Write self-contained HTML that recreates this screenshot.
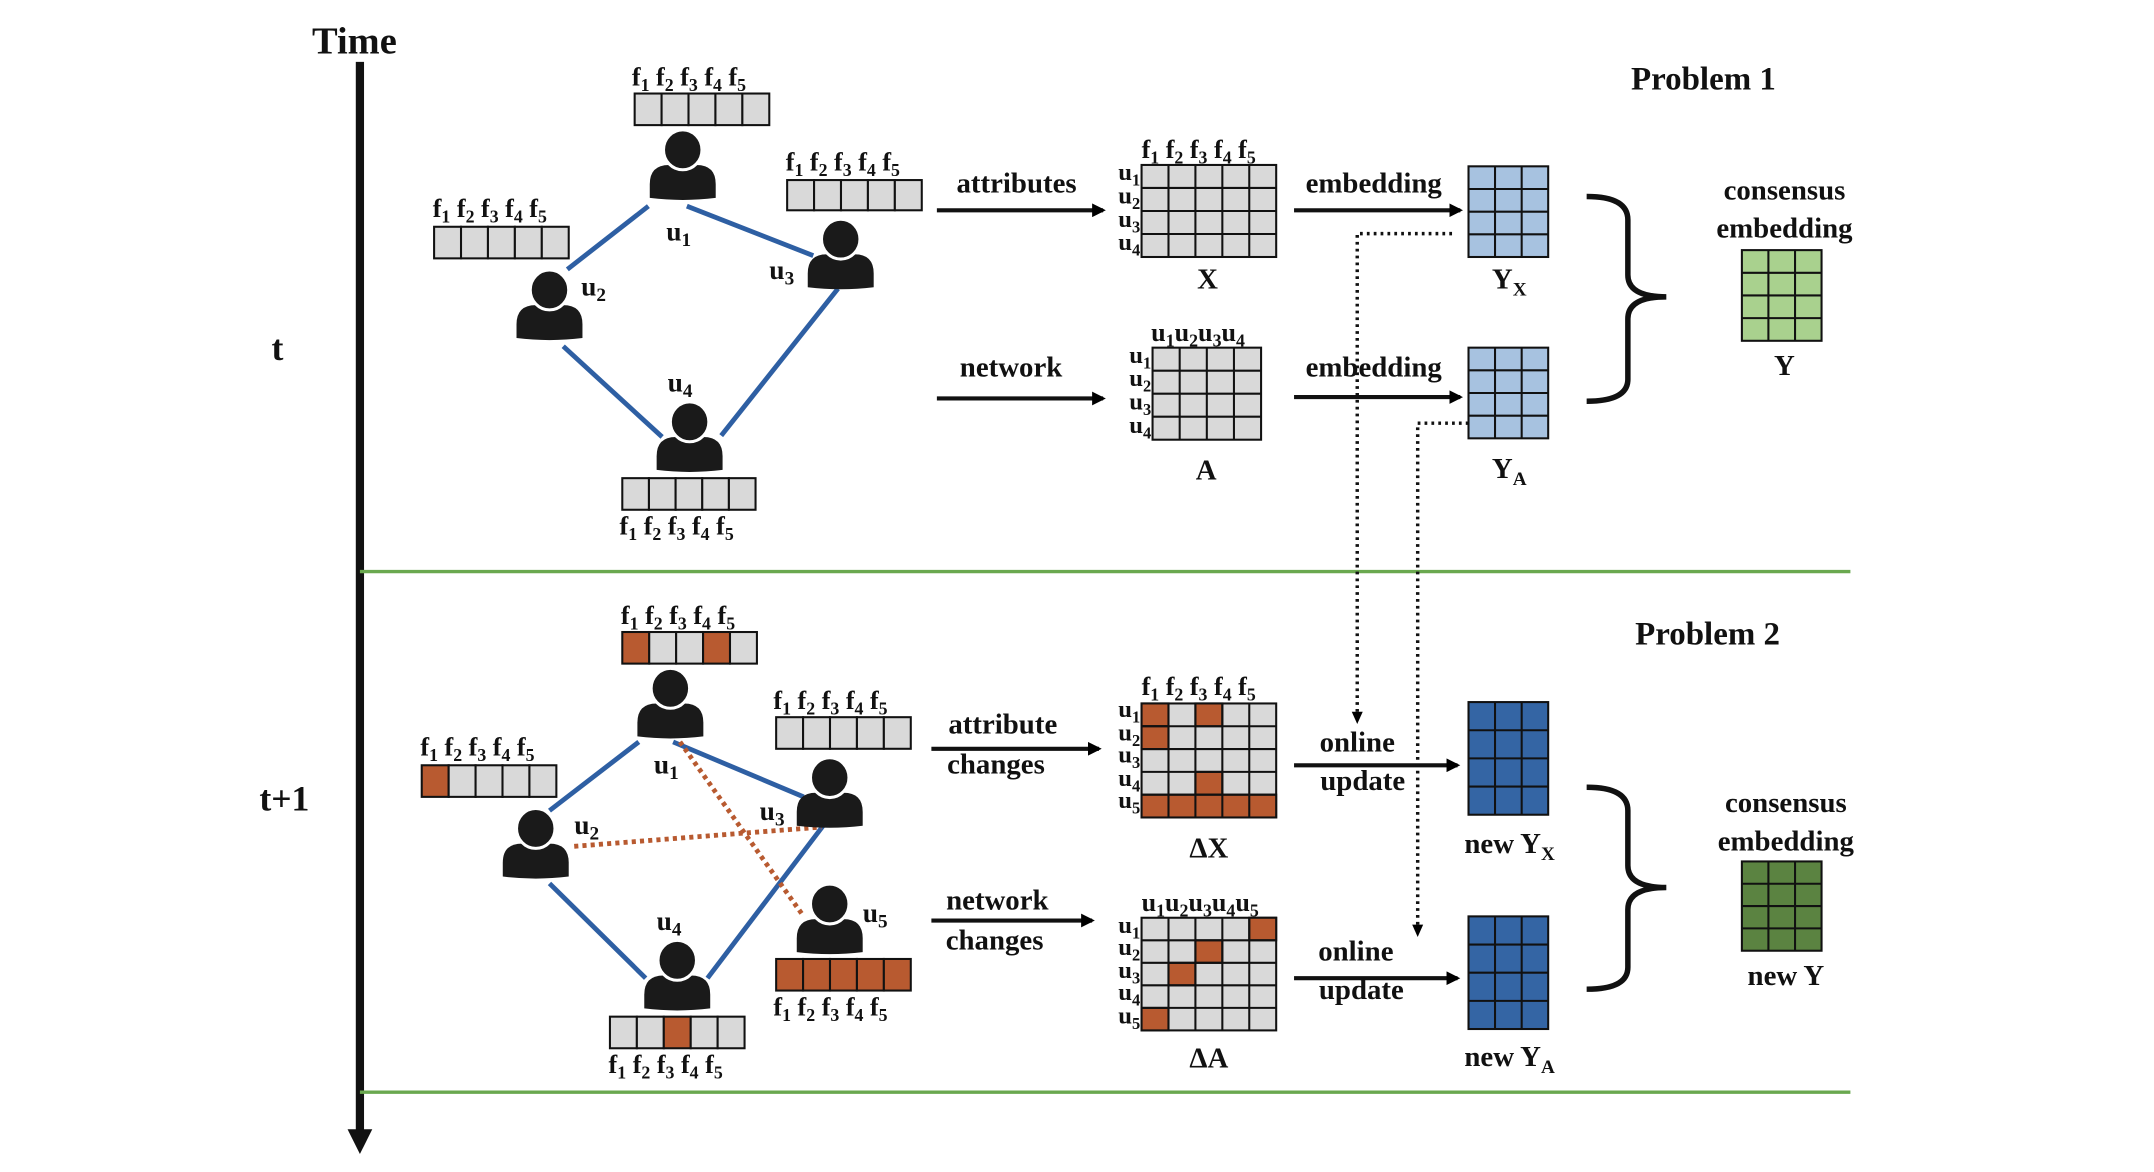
<!DOCTYPE html>
<html><head><meta charset="utf-8"><style>
html,body{margin:0;padding:0;background:#fff;}
svg{display:block;}
text{font-family:"Liberation Serif",serif;font-weight:bold;fill:#111;}
</style></head><body>
<svg width="2154" height="1172" viewBox="0 0 1568 853" xmlns="http://www.w3.org/2000/svg">
<defs>
<marker id="ah" markerWidth="10" markerHeight="10" refX="8" refY="5" orient="auto" markerUnits="userSpaceOnUse"><path d="M0,0 L10,5 L0,10 z" fill="#000"/></marker>
<marker id="ah2" markerWidth="10" markerHeight="10" refX="8" refY="5" orient="auto" markerUnits="userSpaceOnUse"><path d="M0,1 L9,5 L0,9 z" fill="#000"/></marker>
<g id="person"><path d="M-24,35 L-24,25 Q-24,11 -10,11 L10,11 Q24,11 24,25 L24,35 Q0,38 -24,35 Z" fill="#1a1a1a"/><ellipse cx="0" cy="0" rx="14" ry="14.5" fill="#1a1a1a" stroke="#fff" stroke-width="2.2"/></g>
</defs>
<rect width="1568" height="853" fill="#fff"/>
<!-- time axis -->
<line x1="262" y1="45" x2="262" y2="825" stroke="#111" stroke-width="6"/>
<path d="M253,822 L271,822 L262,840 Z" fill="#111"/>
<text x="258" y="39" font-size="28" text-anchor="middle">Time</text>
<text x="202" y="262" font-size="26" text-anchor="middle">t</text>
<text x="207" y="590" font-size="26" text-anchor="middle">t+1</text>
<line x1="262" y1="416" x2="1347" y2="416" stroke="#6aa84f" stroke-width="2.5"/>
<line x1="262" y1="795" x2="1347" y2="795" stroke="#6aa84f" stroke-width="2.5"/>
<text x="1240" y="65" font-size="24" text-anchor="middle">Problem 1</text>
<text x="1243" y="469" font-size="24" text-anchor="middle">Problem 2</text>

<g stroke="#2e5fa3" stroke-width="3.5">
<line x1="472" y1="150" x2="413" y2="196"/><line x1="500" y1="150" x2="592" y2="186"/>
<line x1="410" y1="252" x2="482" y2="318"/><line x1="610" y1="210" x2="525" y2="317"/>
</g>
<g stroke="#2e5fa3" stroke-width="3.5">
<line x1="465" y1="540" x2="400" y2="590"/><line x1="490" y1="540" x2="585" y2="580"/>
<line x1="400" y1="643" x2="470" y2="712"/><line x1="600" y1="600" x2="515" y2="712"/>
</g>
<g stroke="#b85a30" stroke-width="3.5" stroke-dasharray="3,3">
<line x1="495" y1="540" x2="585" y2="667"/><line x1="418" y1="616" x2="598" y2="602"/>
</g>

<use href="#person" x="497" y="109"/><use href="#person" x="400" y="211"/>
<use href="#person" x="612" y="174"/><use href="#person" x="502" y="307"/>
<use href="#person" x="488" y="501"/><use href="#person" x="390" y="603"/>
<use href="#person" x="604" y="566"/><use href="#person" x="493" y="699"/>
<use href="#person" x="604" y="658"/>

<g font-size="20">
<text x="485" y="175">u<tspan font-size="14" dy="4">1</tspan></text>
<text x="423" y="215">u<tspan font-size="14" dy="4">2</tspan></text>
<text x="560" y="203">u<tspan font-size="14" dy="4">3</tspan></text>
<text x="486" y="285">u<tspan font-size="14" dy="4">4</tspan></text>
<text x="476" y="563">u<tspan font-size="14" dy="4">1</tspan></text>
<text x="418" y="607">u<tspan font-size="14" dy="4">2</tspan></text>
<text x="553" y="597">u<tspan font-size="14" dy="4">3</tspan></text>
<text x="478" y="677">u<tspan font-size="14" dy="4">4</tspan></text>
<text x="628" y="671">u<tspan font-size="14" dy="4">5</tspan></text>
</g>

<g stroke="#111" stroke-width="1.5" fill="#d9d9d9">
<rect x="462" y="68" width="19.6" height="23"/><rect x="481.6" y="68" width="19.6" height="23"/><rect x="501.2" y="68" width="19.6" height="23"/><rect x="520.8" y="68" width="19.6" height="23"/><rect x="540.4" y="68" width="19.6" height="23"/>
<rect x="573" y="131" width="19.6" height="22"/><rect x="592.6" y="131" width="19.6" height="22"/><rect x="612.2" y="131" width="19.6" height="22"/><rect x="631.8" y="131" width="19.6" height="22"/><rect x="651.4" y="131" width="19.6" height="22"/>
<rect x="316" y="165" width="19.6" height="23"/><rect x="335.6" y="165" width="19.6" height="23"/><rect x="355.2" y="165" width="19.6" height="23"/><rect x="374.8" y="165" width="19.6" height="23"/><rect x="394.4" y="165" width="19.6" height="23"/>
<rect x="453" y="348" width="19.4" height="23"/><rect x="472.4" y="348" width="19.4" height="23"/><rect x="491.8" y="348" width="19.4" height="23"/><rect x="511.2" y="348" width="19.4" height="23"/><rect x="530.6" y="348" width="19.4" height="23"/>
<rect x="453" y="460" width="19.6" height="23" fill="#b85a30"/><rect x="472.6" y="460" width="19.6" height="23"/><rect x="492.2" y="460" width="19.6" height="23"/><rect x="511.8" y="460" width="19.6" height="23" fill="#b85a30"/><rect x="531.4" y="460" width="19.6" height="23"/>
<rect x="565" y="522" width="19.6" height="23"/><rect x="584.6" y="522" width="19.6" height="23"/><rect x="604.2" y="522" width="19.6" height="23"/><rect x="623.8" y="522" width="19.6" height="23"/><rect x="643.4" y="522" width="19.6" height="23"/>
<rect x="307" y="557" width="19.6" height="23" fill="#b85a30"/><rect x="326.6" y="557" width="19.6" height="23"/><rect x="346.2" y="557" width="19.6" height="23"/><rect x="365.8" y="557" width="19.6" height="23"/><rect x="385.4" y="557" width="19.6" height="23"/>
<rect x="444" y="740" width="19.6" height="23"/><rect x="463.6" y="740" width="19.6" height="23"/><rect x="483.2" y="740" width="19.6" height="23" fill="#b85a30"/><rect x="502.8" y="740" width="19.6" height="23"/><rect x="522.4" y="740" width="19.6" height="23"/>
<g fill="#b85a30"><rect x="565" y="698" width="19.6" height="23"/><rect x="584.6" y="698" width="19.6" height="23"/><rect x="604.2" y="698" width="19.6" height="23"/><rect x="623.8" y="698" width="19.6" height="23"/><rect x="643.4" y="698" width="19.6" height="23"/></g>
</g>
<g font-size="19">
<text x="460" y="62">f<tspan font-size="13" dy="4">1</tspan><tspan dy="-4"> f</tspan><tspan font-size="13" dy="4">2</tspan><tspan dy="-4"> f</tspan><tspan font-size="13" dy="4">3</tspan><tspan dy="-4"> f</tspan><tspan font-size="13" dy="4">4</tspan><tspan dy="-4"> f</tspan><tspan font-size="13" dy="4">5</tspan></text>
<text x="572" y="124">f<tspan font-size="13" dy="4">1</tspan><tspan dy="-4"> f</tspan><tspan font-size="13" dy="4">2</tspan><tspan dy="-4"> f</tspan><tspan font-size="13" dy="4">3</tspan><tspan dy="-4"> f</tspan><tspan font-size="13" dy="4">4</tspan><tspan dy="-4"> f</tspan><tspan font-size="13" dy="4">5</tspan></text>
<text x="315" y="158">f<tspan font-size="13" dy="4">1</tspan><tspan dy="-4"> f</tspan><tspan font-size="13" dy="4">2</tspan><tspan dy="-4"> f</tspan><tspan font-size="13" dy="4">3</tspan><tspan dy="-4"> f</tspan><tspan font-size="13" dy="4">4</tspan><tspan dy="-4"> f</tspan><tspan font-size="13" dy="4">5</tspan></text>
<text x="451" y="389">f<tspan font-size="13" dy="4">1</tspan><tspan dy="-4"> f</tspan><tspan font-size="13" dy="4">2</tspan><tspan dy="-4"> f</tspan><tspan font-size="13" dy="4">3</tspan><tspan dy="-4"> f</tspan><tspan font-size="13" dy="4">4</tspan><tspan dy="-4"> f</tspan><tspan font-size="13" dy="4">5</tspan></text>
<text x="452" y="454">f<tspan font-size="13" dy="4">1</tspan><tspan dy="-4"> f</tspan><tspan font-size="13" dy="4">2</tspan><tspan dy="-4"> f</tspan><tspan font-size="13" dy="4">3</tspan><tspan dy="-4"> f</tspan><tspan font-size="13" dy="4">4</tspan><tspan dy="-4"> f</tspan><tspan font-size="13" dy="4">5</tspan></text>
<text x="563" y="516">f<tspan font-size="13" dy="4">1</tspan><tspan dy="-4"> f</tspan><tspan font-size="13" dy="4">2</tspan><tspan dy="-4"> f</tspan><tspan font-size="13" dy="4">3</tspan><tspan dy="-4"> f</tspan><tspan font-size="13" dy="4">4</tspan><tspan dy="-4"> f</tspan><tspan font-size="13" dy="4">5</tspan></text>
<text x="306" y="550">f<tspan font-size="13" dy="4">1</tspan><tspan dy="-4"> f</tspan><tspan font-size="13" dy="4">2</tspan><tspan dy="-4"> f</tspan><tspan font-size="13" dy="4">3</tspan><tspan dy="-4"> f</tspan><tspan font-size="13" dy="4">4</tspan><tspan dy="-4"> f</tspan><tspan font-size="13" dy="4">5</tspan></text>
<text x="443" y="781">f<tspan font-size="13" dy="4">1</tspan><tspan dy="-4"> f</tspan><tspan font-size="13" dy="4">2</tspan><tspan dy="-4"> f</tspan><tspan font-size="13" dy="4">3</tspan><tspan dy="-4"> f</tspan><tspan font-size="13" dy="4">4</tspan><tspan dy="-4"> f</tspan><tspan font-size="13" dy="4">5</tspan></text>
<text x="563" y="739">f<tspan font-size="13" dy="4">1</tspan><tspan dy="-4"> f</tspan><tspan font-size="13" dy="4">2</tspan><tspan dy="-4"> f</tspan><tspan font-size="13" dy="4">3</tspan><tspan dy="-4"> f</tspan><tspan font-size="13" dy="4">4</tspan><tspan dy="-4"> f</tspan><tspan font-size="13" dy="4">5</tspan></text>
<text x="831" y="115">f<tspan font-size="13" dy="4">1</tspan><tspan dy="-4"> f</tspan><tspan font-size="13" dy="4">2</tspan><tspan dy="-4"> f</tspan><tspan font-size="13" dy="4">3</tspan><tspan dy="-4"> f</tspan><tspan font-size="13" dy="4">4</tspan><tspan dy="-4"> f</tspan><tspan font-size="13" dy="4">5</tspan></text>
<text x="831" y="506">f<tspan font-size="13" dy="4">1</tspan><tspan dy="-4"> f</tspan><tspan font-size="13" dy="4">2</tspan><tspan dy="-4"> f</tspan><tspan font-size="13" dy="4">3</tspan><tspan dy="-4"> f</tspan><tspan font-size="13" dy="4">4</tspan><tspan dy="-4"> f</tspan><tspan font-size="13" dy="4">5</tspan></text>
<text x="838" y="248">u<tspan font-size="13" dy="4">1</tspan><tspan dy="-4">u</tspan><tspan font-size="13" dy="4">2</tspan><tspan dy="-4">u</tspan><tspan font-size="13" dy="4">3</tspan><tspan dy="-4">u</tspan><tspan font-size="13" dy="4">4</tspan></text>
<text x="831" y="663">u<tspan font-size="13" dy="4">1</tspan><tspan dy="-4">u</tspan><tspan font-size="13" dy="4">2</tspan><tspan dy="-4">u</tspan><tspan font-size="13" dy="4">3</tspan><tspan dy="-4">u</tspan><tspan font-size="13" dy="4">4</tspan><tspan dy="-4">u</tspan><tspan font-size="13" dy="4">5</tspan></text>
</g>
<g font-size="18" text-anchor="end">
<text x="830" y="131">u<tspan font-size="12" dy="4">1</tspan></text><text x="830" y="148">u<tspan font-size="12" dy="4">2</tspan></text><text x="830" y="165">u<tspan font-size="12" dy="4">3</tspan></text><text x="830" y="182">u<tspan font-size="12" dy="4">4</tspan></text>
<text x="838" y="264">u<tspan font-size="12" dy="4">1</tspan></text><text x="838" y="281">u<tspan font-size="12" dy="4">2</tspan></text><text x="838" y="298">u<tspan font-size="12" dy="4">3</tspan></text><text x="838" y="315">u<tspan font-size="12" dy="4">4</tspan></text>
<text x="830" y="522">u<tspan font-size="12" dy="4">1</tspan></text><text x="830" y="539">u<tspan font-size="12" dy="4">2</tspan></text><text x="830" y="555">u<tspan font-size="12" dy="4">3</tspan></text><text x="830" y="572">u<tspan font-size="12" dy="4">4</tspan></text><text x="830" y="588">u<tspan font-size="12" dy="4">5</tspan></text>
<text x="830" y="679">u<tspan font-size="12" dy="4">1</tspan></text><text x="830" y="695">u<tspan font-size="12" dy="4">2</tspan></text><text x="830" y="712">u<tspan font-size="12" dy="4">3</tspan></text><text x="830" y="728">u<tspan font-size="12" dy="4">4</tspan></text><text x="830" y="745">u<tspan font-size="12" dy="4">5</tspan></text>
</g>

<g stroke="#111" stroke-width="1.5">
<rect x="831" y="120" width="98" height="67" fill="#d9d9d9"/>
<path d="M850.6,120V187M870.2,120V187M889.8,120V187M909.4,120V187M831,136.75H929M831,153.5H929M831,170.25H929" fill="none"/>
<rect x="839" y="253" width="79" height="67" fill="#d9d9d9"/>
<path d="M858.75,253V320M878.5,253V320M898.25,253V320M839,269.75H918M839,286.5H918M839,303.25H918" fill="none"/>
<rect x="831" y="512" width="98" height="83" fill="#d9d9d9"/>
<g fill="#b85a30"><rect x="831" y="512" width="19.6" height="16.6"/><rect x="870.2" y="512" width="19.6" height="16.6"/><rect x="831" y="528.6" width="19.6" height="16.6"/><rect x="870.2" y="561.8" width="19.6" height="16.6"/><rect x="831" y="578.4" width="98" height="16.6"/></g>
<path d="M850.6,512V595M870.2,512V595M889.8,512V595M909.4,512V595M831,528.6H929M831,545.2H929M831,561.8H929M831,578.4H929" fill="none"/>
<rect x="831" y="668" width="98" height="82" fill="#d9d9d9"/>
<g fill="#b85a30"><rect x="909.4" y="668" width="19.6" height="16.4"/><rect x="870.2" y="684.4" width="19.6" height="16.4"/><rect x="850.6" y="700.8" width="19.6" height="16.4"/><rect x="831" y="733.6" width="19.6" height="16.4"/></g>
<path d="M850.6,668V750M870.2,668V750M889.8,668V750M909.4,668V750M831,684.4H929M831,700.8H929M831,717.2H929M831,733.6H929" fill="none"/>
<rect x="1069" y="121" width="58" height="66" fill="#a7c2e0"/>
<path d="M1088.3,121V187M1107.7,121V187M1069,137.5H1127M1069,154H1127M1069,170.5H1127" fill="none"/>
<rect x="1069" y="253" width="58" height="66" fill="#a7c2e0"/>
<path d="M1088.3,253V319M1107.7,253V319M1069,269.5H1127M1069,286H1127M1069,302.5H1127" fill="none"/>
<rect x="1069" y="511" width="58" height="82" fill="#3465a4"/>
<path d="M1088.3,511V593M1107.7,511V593M1069,531.5H1127M1069,552H1127M1069,572.5H1127" fill="none"/>
<rect x="1069" y="667" width="58" height="82" fill="#3465a4"/>
<path d="M1088.3,667V749M1107.7,667V749M1069,687.5H1127M1069,708H1127M1069,728.5H1127" fill="none"/>
<rect x="1268" y="182" width="58" height="66" fill="#a9d18e"/>
<path d="M1287.3,182V248M1306.7,182V248M1268,198.5H1326M1268,215H1326M1268,231.5H1326" fill="none"/>
<rect x="1268" y="627" width="58" height="65" fill="#5b8341"/>
<path d="M1287.3,627V692M1306.7,627V692M1268,643.25H1326M1268,659.5H1326M1268,675.75H1326" fill="none"/>
</g>

<g stroke="#111" stroke-width="3" fill="none">
<line x1="682" y1="153" x2="803" y2="153" marker-end="url(#ah)"/>
<line x1="682" y1="290" x2="803" y2="290" marker-end="url(#ah)"/>
<line x1="942" y1="153" x2="1063" y2="153" marker-end="url(#ah)"/>
<line x1="942" y1="289" x2="1063" y2="289" marker-end="url(#ah)"/>
<line x1="678" y1="545" x2="800" y2="545" marker-end="url(#ah)"/>
<line x1="678" y1="670" x2="795" y2="670" marker-end="url(#ah)"/>
<line x1="942" y1="557" x2="1061" y2="557" marker-end="url(#ah)"/>
<line x1="942" y1="712" x2="1061" y2="712" marker-end="url(#ah)"/>
</g>
<g stroke="#111" stroke-width="2.5" fill="none" stroke-dasharray="2,3">
<path d="M1057,170 H988 V526" marker-end="url(#ah2)"/>
<path d="M1069,308 H1032 V681" marker-end="url(#ah2)"/>
</g>
<g stroke="#111" stroke-width="4" fill="none">
<path d="M1155,143 Q1185,143 1185,160 V200 Q1185,216 1213,216 Q1185,216 1185,232 V276 Q1185,292 1155,292"/>
<path d="M1155,573 Q1185,573 1185,590 V630 Q1185,646 1213,646 Q1185,646 1185,662 V704 Q1185,720 1155,720"/>
</g>

<g font-size="21" text-anchor="middle">
<text x="740" y="140">attributes</text>
<text x="736" y="274">network</text>
<text x="1000" y="140">embedding</text>
<text x="1000" y="274">embedding</text>
<text x="730" y="534">attribute</text><text x="725" y="563">changes</text>
<text x="726" y="662">network</text><text x="724" y="691">changes</text>
<text x="988" y="547">online</text><text x="992" y="575">update</text>
<text x="987" y="699">online</text><text x="991" y="727">update</text>
<text x="1299" y="145">consensus</text><text x="1299" y="173">embedding</text>
<text x="1300" y="591">consensus</text><text x="1300" y="619">embedding</text>
<text x="879" y="210">X</text>
<text x="878" y="349">A</text>
<text x="1299" y="273">Y</text>
<text x="880" y="624">ΔX</text>
<text x="880" y="777">ΔA</text>
<text x="1300" y="717">new Y</text>
</g>
<g font-size="21">
<text x="1086" y="210">Y<tspan font-size="14" dy="5">X</tspan></text>
<text x="1086" y="348">Y<tspan font-size="14" dy="5">A</tspan></text>
<text x="1066" y="621">new Y<tspan font-size="14" dy="5">X</tspan></text>
<text x="1066" y="776">new Y<tspan font-size="14" dy="5">A</tspan></text>
</g>
</svg>
</body></html>
